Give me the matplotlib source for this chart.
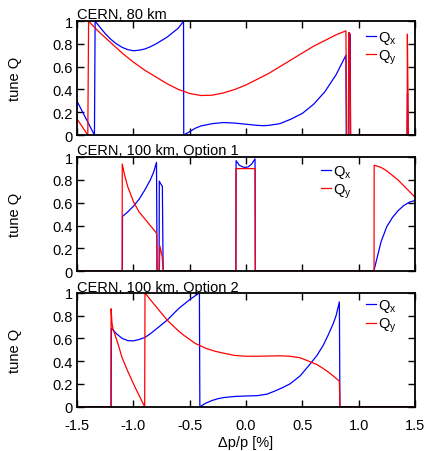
import matplotlib.pyplot as plt

plt.rcParams['font.family'] = ['Liberation Sans', 'DejaVu Sans']
plt.rcParams['mathtext.fontset'] = 'custom'
plt.rcParams['mathtext.rm'] = 'Liberation Sans'
plt.rcParams['mathtext.it'] = 'Liberation Sans'
plt.rcParams['axes.unicode_minus'] = False

# tune vs momentum offset, one pair of curves per lattice
titles = ["CERN, 80 km", "CERN, 100 km, Option 1", "CERN, 100 km, Option 2"]

# CERN 80 km
dp80_x = [-1.5, -1.346, -1.34, -1.30, -1.25, -1.20, -1.15, -1.10, -1.05, -1.0, -0.95, -0.90,
          -0.85, -0.80, -0.75, -0.70, -0.65, -0.60, -0.555, -0.553, -0.50, -0.45, -0.40,
          -0.30, -0.20, -0.10, 0.0, 0.10, 0.155, 0.20, 0.30, 0.40, 0.50, 0.60, 0.70, 0.80,
          0.887, 0.89, 0.912, 0.914, 0.926, 0.928, 1.43, 1.434, 1.439, 1.5]
qx80 = [0.296, 0.0, 1.0, 0.95, 0.89, 0.84, 0.80, 0.77, 0.75, 0.74, 0.745, 0.755,
        0.775, 0.80, 0.83, 0.86, 0.90, 0.94, 1.0, 0.0, 0.03, 0.06, 0.08,
        0.10, 0.11, 0.105, 0.095, 0.085, 0.082, 0.085, 0.10, 0.14, 0.19, 0.27, 0.38, 0.53,
        0.70, 0.0, 0.0, 0.90, 0.88, 0.0, 0.0, 0.37, 0.0, 0.0]
dp80_y = [-1.5, -1.405, -1.398, -1.35, -1.30, -1.20, -1.10, -1.0, -0.90, -0.80, -0.70,
          -0.60, -0.50, -0.40, -0.30, -0.20, -0.10, 0.0, 0.10, 0.20, 0.30, 0.40, 0.50,
          0.60, 0.70, 0.80, 0.887, 0.895, 0.912, 0.914, 0.922, 0.929, 1.431, 1.433, 1.442, 1.5]
qy80 = [0.14, 0.0, 1.0, 0.95, 0.90, 0.81, 0.72, 0.64, 0.57, 0.51, 0.45,
        0.40, 0.365, 0.347, 0.35, 0.37, 0.40, 0.44, 0.49, 0.54, 0.60, 0.66, 0.72,
        0.78, 0.83, 0.88, 0.915, 0.0, 0.0, 0.90, 0.89, 0.0, 0.0, 0.886, 0.0, 0.0]

# CERN 100 km, option 1
dp1_x = [-1.5, -1.098, -1.097, -1.05, -1.0, -0.95, -0.90, -0.85, -0.82, -0.795, -0.79,
         -0.772, -0.77, -0.76, -0.743, -0.736, -0.09, -0.088, -0.06, -0.03, -0.009, 0.02,
         0.05, 0.08, 0.082, 1.135, 1.20, 1.25, 1.30, 1.35, 1.40, 1.45, 1.5]
qx1 = [0.0, 0.0, 0.48, 0.52, 0.57, 0.63, 0.71, 0.80, 0.87, 0.955, 0.0,
       0.0, 0.79, 0.77, 0.745, 0.0, 0.0, 0.97, 0.93, 0.915, 0.91, 0.915,
       0.94, 0.985, 0.0, 0.0, 0.26, 0.39, 0.47, 0.53, 0.575, 0.605, 0.62]
dp1_y = [-1.5, -1.10, -1.099, -1.08, -1.05, -1.0, -0.95, -0.90, -0.85, -0.80, -0.793,
         -0.79, -0.77, -0.765, -0.745, -0.735, -0.09, -0.089, 0.082, 0.083, 1.137, 1.138,
         1.20, 1.25, 1.30, 1.35, 1.40, 1.45, 1.5]
qy1 = [0.0, 0.0, 0.94, 0.85, 0.74, 0.61, 0.52, 0.46, 0.40, 0.34, 0.325,
       0.0, 0.0, 0.22, 0.13, 0.0, 0.0, 0.90, 0.90, 0.0, 0.0, 0.93,
       0.91, 0.88, 0.84, 0.80, 0.75, 0.70, 0.65]

# CERN 100 km, option 2
dp2_x = [-1.5, -1.198, -1.196, -1.15, -1.10, -1.05, -1.0, -0.95, -0.90, -0.85, -0.80,
         -0.75, -0.70, -0.65, -0.60, -0.55, -0.50, -0.45, -0.414, -0.41, -0.36, -0.30,
         -0.25, -0.20, -0.10, 0.0, 0.10, 0.185, 0.25, 0.33, 0.39, 0.48, 0.568, 0.63,
         0.686, 0.73, 0.775, 0.80, 0.829, 0.834, 1.5]
qx2 = [0.0, 0.0, 0.69, 0.64, 0.60, 0.58, 0.578, 0.59, 0.607, 0.64, 0.68,
       0.72, 0.76, 0.81, 0.86, 0.90, 0.94, 0.975, 1.0, 0.0, 0.03, 0.055,
       0.07, 0.08, 0.09, 0.094, 0.097, 0.11, 0.135, 0.17, 0.20, 0.27, 0.373, 0.45,
       0.54, 0.63, 0.73, 0.80, 0.92, 0.0, 0.0]
dp2_y = [-1.5, -1.2, -1.198, -1.19, -1.18, -1.163, -1.13, -1.104, -1.075, -1.045, -1.015,
         -0.985, -0.95, -0.92, -0.90, -0.897, -0.85, -0.80, -0.75, -0.70, -0.60, -0.55,
         -0.50, -0.45, -0.417, -0.35, -0.275, -0.20, -0.10, 0.0, 0.10, 0.20, 0.30, 0.39,
         0.48, 0.568, 0.63, 0.686, 0.73, 0.775, 0.81, 0.829, 0.834, 1.5]
qy2 = [0.0, 0.0, 0.86, 0.73, 0.68, 0.63, 0.53, 0.44, 0.37, 0.30, 0.235,
       0.17, 0.10, 0.04, 0.0, 1.0, 0.94, 0.88, 0.82, 0.76, 0.665, 0.625,
       0.59, 0.555, 0.54, 0.51, 0.487, 0.47, 0.45, 0.443, 0.443, 0.445, 0.447, 0.443,
       0.43, 0.395, 0.37, 0.335, 0.305, 0.27, 0.24, 0.225, 0.0, 0.0]

series = [(dp80_x, qx80, dp80_y, qy80), (dp1_x, qx1, dp1_y, qy1), (dp2_x, qx2, dp2_y, qy2)]

xticks = [-1.5, -1.0, -0.5, 0.0, 0.5, 1.0, 1.5]
yticks = [0, 0.2, 0.4, 0.6, 0.8, 1]
ytick_labels = ["0", "0.2", "0.4", "0.6", "0.8", "1"]

# axes boxes [left, bottom, width, height] and legend anchors
boxes = [[0.181, 0.699, 0.793, 0.252],
         [0.181, 0.398, 0.793, 0.252],
         [0.181, 0.098, 0.793, 0.252]]
legend_anchor = [(0.855, 0.93), (0.722, 0.95), (0.855, 0.96)]

fig = plt.figure(figsize=(4.26, 4.52), dpi=100)

for i, (xx, qx, xy, qy) in enumerate(series):
    ax = fig.add_axes(boxes[i])
    ax.plot(xx, qx, color='#0000ff', lw=0.9, label=r'$\mathrm{Q}_\mathrm{x}$')
    ax.plot(xy, qy, color='#ff0000', lw=0.9, label=r'$\mathrm{Q}_\mathrm{y}$')
    ax.set_xlim(-1.5, 1.5)
    ax.set_ylim(0, 1)
    ax.set_xticks(xticks)
    ax.set_yticks(yticks)
    ax.set_yticklabels(ytick_labels)
    ax.tick_params(direction='in', length=5, width=1, top=True, right=True,
                   labelsize=10.5)
    ax.tick_params(axis='y', pad=3)
    ax.tick_params(axis='x', pad=8)
    if i == 2:
        ax.set_xticklabels([f"{t:.1f}" for t in xticks])
        ax.set_xlabel("Δp/p [%]", fontsize=10.5, labelpad=2)
    else:
        ax.set_xticklabels([])
    for sp in ax.spines.values():
        sp.set_linewidth(1.3)
    ax.set_ylabel("tune Q", fontsize=10.5)
    ax.yaxis.set_label_coords(-0.162, 0.5)
    ax.set_title(titles[i], loc='left', fontsize=10.5, pad=1)
    ax.legend(loc='upper left', bbox_to_anchor=legend_anchor[i], frameon=False,
              handlelength=0.7, handletextpad=0.1, labelspacing=0.1, borderpad=0,
              borderaxespad=0, fontsize=10.5)

fig.savefig('out.png', dpi=100)
